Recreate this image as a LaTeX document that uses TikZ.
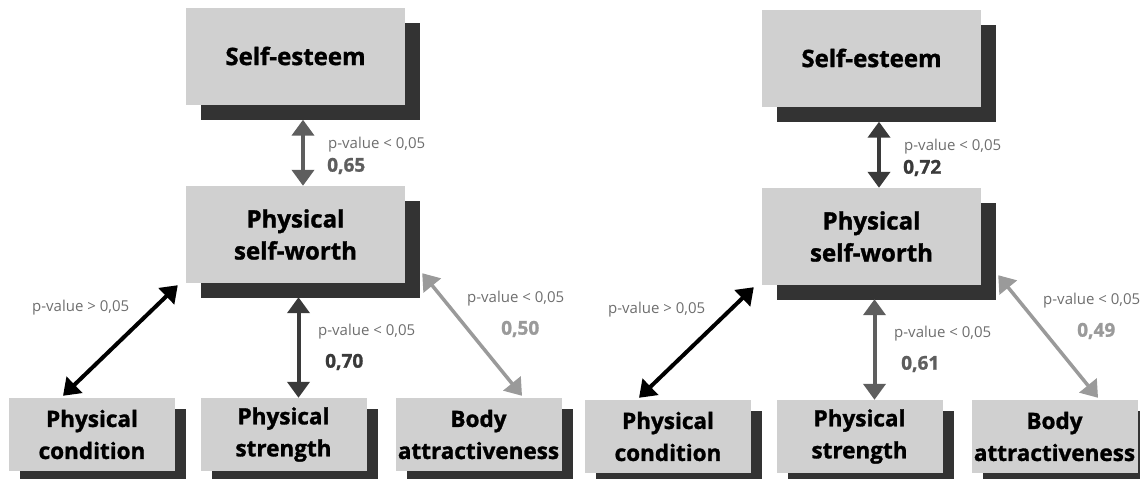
\documentclass[tikz,border=0pt]{standalone}
\usepackage{fontspec}
\setmainfont{Open Sans}[BoldFeatures={FakeBold=1.3}]
\usetikzlibrary{arrows.meta,calc,shadows}

\definecolor{boxgray}{HTML}{D0D0D0}
\definecolor{shadowgray}{HTML}{333333}
\definecolor{midgray}{HTML}{5E5E5E}
\definecolor{deepgray}{HTML}{3A3A3A}
\definecolor{palegray}{HTML}{9A9A9A}
\definecolor{textgray}{HTML}{6E6E6E}

\tikzset{
  boxbase/.style={fill=boxgray, inner sep=0pt, align=center},
  bigbox/.style={boxbase, minimum width=219pt, minimum height=97pt,
    font=\bfseries\fontsize{24}{32}\selectfont,
    drop shadow={shadow xshift=15pt, shadow yshift=-15pt, fill=shadowgray, opacity=1}},
  smallbox/.style={boxbase, minimum width=166pt, minimum height=73pt,
    font=\bfseries\fontsize{22.5}{32}\selectfont,
    drop shadow={shadow xshift=11pt, shadow yshift=-11pt, fill=shadowgray, opacity=1}},
  link/.style={{Triangle[width=22pt,length=16pt]}-{Triangle[width=22pt,length=16pt]}, line width=4pt},
  pval/.style={anchor=west, inner sep=0pt, text=textgray, font=\fontsize{15}{18}\selectfont},
  coef/.style={anchor=west, inner sep=0pt, font=\bfseries\fontsize{19}{22}\selectfont},
}

\begin{document}
\begin{tikzpicture}[x=1pt, y=-1pt]
  \useasboundingbox (0,0) rectangle (1140,479);

  % left model
  \node[bigbox] (se) at (295.5,56) {Self-esteem};
  \node[bigbox] (sw) at (295.5,234.5) {Physical\\self-worth};
  \node[smallbox] (pc) at (92,434.5) {Physical\\condition};
  \node[smallbox] (ps) at (283.5,434.5) {Physical\\strength};
  \node[smallbox] (ba) at (478.5,434.5) {Body\\attractiveness};

  \draw[link, midgray] ($(se.south)+(7.5,15)$) -- ($(sw.north)+(7.5,0)$);
  \draw[link, deepgray] ($(sw.south)+(3,14)$) -- ($(ps.north)+(15,0)$);
  \draw[link, black] ($(sw.south west)+(-8,2)$) -- ($(pc.north)+(-29,-2)$);
  \draw[link, palegray, line width=3.5pt] ($(sw.south east)+(17,-10)$) -- ($(ba.north)+(43.5,-2)$);

  \node[pval] (p1) at (328,145) {p-value < 0,05};
  \node[coef, midgray] (c1) at (327,166) {0,65};
  \node[pval] (p2) at (32,308) {p-value > 0,05};
  \node[pval] (p3) at (318,332) {p-value < 0,05};
  \node[coef, deepgray] (c3) at (325,362) {0,70};
  \node[pval] (p4) at (467,299) {p-value < 0,05};
  \node[coef, palegray] (c4) at (501,329) {0,50};

  % right model
  \begin{scope}[shift={(576,2)}]
  \node[bigbox] (se2) at (295.5,56) {Self-esteem};
  \node[bigbox] (sw2) at (295.5,234.5) {Physical\\self-worth};
  \node[smallbox] (pc2) at (92,434.5) {Physical\\condition};
  \node[smallbox] (ps2) at (283.5,434.5) {Physical\\strength};
  \node[smallbox] (ba2) at (478.5,434.5) {Body\\attractiveness};

  \draw[link, deepgray] ($(se2.south)+(7.5,15)$) -- ($(sw2.north)+(7.5,0)$);
  \draw[link, midgray] ($(sw2.south)+(3,14)$) -- ($(ps2.north)+(15,0)$);
  \draw[link, black] ($(sw2.south west)+(-8,2)$) -- ($(pc2.north)+(-29,-2)$);
  \draw[link, palegray, line width=3.5pt] ($(sw2.south east)+(17,-10)$) -- ($(ba2.north)+(43.5,-2)$);

  \node[pval] (q1) at (328,145) {p-value < 0,05};
  \node[coef, deepgray] (d1) at (327,166) {0,72};
  \node[pval] (q2) at (32,308) {p-value > 0,05};
  \node[pval] (q3) at (318,332) {p-value < 0,05};
  \node[coef, midgray] (d3) at (325,362) {0,61};
  \node[pval] (q4) at (467,299) {p-value < 0,05};
  \node[coef, palegray] (d4) at (501,329) {0,49};
  \end{scope}
\end{tikzpicture}
\end{document}
